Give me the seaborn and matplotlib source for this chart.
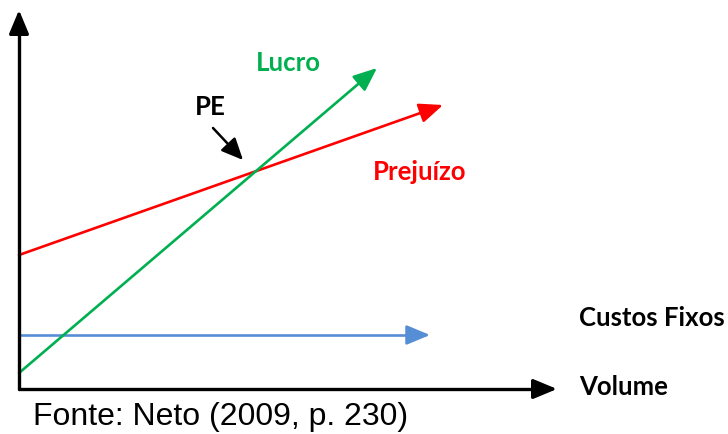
import matplotlib
matplotlib.use("Agg")
import matplotlib.pyplot as plt
import seaborn as sns
import pandas as pd

sns.set_theme(style="white")
plt.rcParams['font.family'] = ['Lato', 'DejaVu Sans']

# Data (volume vs value), origin at axes corner
custos_x = [0, 411]
custos_y = [54, 54]
prej_x = [0, 424]
prej_y = [134, 284]
lucro_x = [0, 358]
lucro_y = [16, 321]
axis_x_end = 538
axis_y_end = 379

fig = plt.figure(figsize=(7.28, 4.34), dpi=100)
ax = fig.add_axes([0, 0, 1, 1])
ax.set_xlim(-19, 709)
ax.set_ylim(-45, 389)
ax.axis('off')

def seg(xs, ys, color, lw, head_len):
    dx = xs[1] - xs[0]; dy = ys[1] - ys[0]
    L = (dx**2 + dy**2) ** 0.5
    f = (L - head_len) / L
    df = pd.DataFrame({"x": [xs[0], xs[0] + dx * f], "y": [ys[0], ys[0] + dy * f]})
    sns.lineplot(data=df, x="x", y="y", ax=ax, color=color, linewidth=lw,
                 estimator=None, sort=False)
    ax.annotate("", xy=(xs[1], ys[1]), xytext=(xs[0] + dx * f, ys[0] + dy * f),
                arrowprops=dict(arrowstyle="-|>,head_length=1.2,head_width=0.5",
                                color=color, lw=lw, shrinkA=0, shrinkB=0))

seg(custos_x, custos_y, "#558ED5", 1.9, 12)
seg(prej_x, prej_y, "#FF0000", 1.9, 12)
seg(lucro_x, lucro_y, "#00B050", 1.9, 12)
# axes
seg([0, axis_x_end], [0, 0], "black", 2.4, 12)
seg([0, 0], [0, axis_y_end], "black", 2.4, 12)

# PE pointer
ax.annotate("", xy=(224, 229), xytext=(194, 261),
            arrowprops=dict(arrowstyle="-|>,head_length=1.1,head_width=0.5",
                            color="black", lw=1.8, shrinkA=0, shrinkB=0))

ax.text(269, 326, "Lucro", color="#00B050", fontsize=18.5, fontweight="bold",
        ha="center", va="center")
ax.text(191, 282, "PE", color="black", fontsize=18.5, fontweight="bold",
        ha="center", va="center")
ax.text(401, 217, "Prejuízo", color="#FF0000", fontsize=18.5, fontweight="bold",
        ha="center", va="center")
ax.text(633, 71, "Custos Fixos", color="black", fontsize=18.5, fontweight="bold",
        ha="center", va="center")
ax.text(605, 2, "Volume", color="black", fontsize=18.5, fontweight="bold",
        ha="center", va="center")
ax.text(202, -28, "Fonte: Neto (2009, p. 230)", color="black", fontsize=23,
        family=["Liberation Sans"], ha="center", va="center")

fig.savefig("out.png", dpi=100)
